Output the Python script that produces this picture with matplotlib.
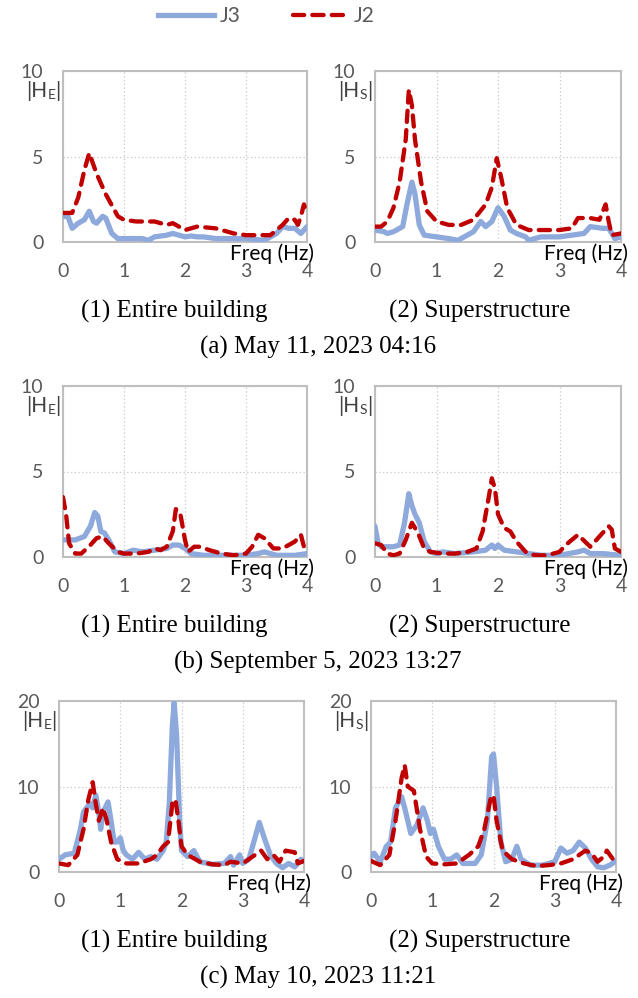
import matplotlib.pyplot as plt
from matplotlib.lines import Line2D

# ---- data (frequency in Hz, |H| amplitude) ----
# (a) May 11, 2023 04:16 - entire building
a1_j3_f = [0, 0.08, 0.15, 0.25, 0.35, 0.43, 0.5, 0.55, 0.65, 0.7, 0.8, 0.9, 1.0, 1.3, 1.4, 1.5, 1.7,
           1.8, 2.0, 2.1, 2.2, 2.3, 2.5, 2.7, 3.0, 3.3, 3.5, 3.6, 3.7, 3.8, 3.9, 4.0]
a1_j3 = [1.5, 1.5, 0.8, 1.1, 1.3, 1.8, 1.2, 1.1, 1.5, 1.4, 0.5, 0.2, 0.2, 0.2, 0.1, 0.3, 0.4,
         0.5, 0.3, 0.35, 0.3, 0.3, 0.2, 0.2, 0.2, 0.1, 0.5, 0.9, 0.8, 0.8, 0.5, 0.9]
a1_j2_f = [0, 0.15, 0.25, 0.35, 0.43, 0.55, 0.7, 0.9, 1.0, 1.2, 1.5, 1.7, 1.8, 2.0, 2.2, 2.5, 2.8,
           3.0, 3.2, 3.4, 3.5, 3.6, 3.7, 3.8, 3.85, 3.9, 3.95, 4.0]
a1_j2 = [1.7, 1.7, 2.6, 4.2, 5.2, 4.0, 2.8, 1.5, 1.3, 1.2, 1.2, 1.0, 1.1, 0.7, 0.9, 0.8, 0.5,
         0.4, 0.4, 0.4, 0.7, 1.0, 1.4, 1.3, 1.0, 1.5, 2.2, 1.6]

# (a) superstructure
a2_j3_f = [0, 0.15, 0.2, 0.3, 0.45, 0.52, 0.6, 0.65, 0.72, 0.8, 1.0, 1.2, 1.35, 1.5, 1.6, 1.72,
           1.8, 1.9, 2.0, 2.1, 2.2, 2.3, 2.45, 2.5, 2.7, 3.0, 3.2, 3.4, 3.5, 3.7, 3.8, 3.9, 4.0]
a2_j3 = [0.7, 0.6, 0.5, 0.6, 0.9, 2.2, 3.5, 2.8, 1.0, 0.4, 0.3, 0.2, 0.1, 0.4, 0.6, 1.2,
         0.9, 1.2, 2.0, 1.5, 0.7, 0.5, 0.3, 0.1, 0.3, 0.3, 0.4, 0.5, 0.9, 0.8, 0.8, 0.2, 0.3]
a2_j2_f = [0, 0.1, 0.2, 0.3, 0.4, 0.5, 0.55, 0.6, 0.65, 0.75, 0.85, 1.0, 1.2, 1.4, 1.6, 1.8, 1.9,
           1.98, 2.05, 2.15, 2.3, 2.5, 2.7, 3.0, 3.2, 3.3, 3.5, 3.65, 3.75, 3.8, 3.85, 4.0]
a2_j2 = [0.9, 0.9, 1.2, 2.0, 3.5, 6.0, 8.9, 8.0, 6.0, 3.5, 1.8, 1.2, 1.0, 1.0, 1.3, 2.2, 3.2,
         4.9, 3.8, 2.0, 1.0, 0.7, 0.7, 0.7, 0.8, 1.4, 1.4, 1.3, 2.2, 1.2, 0.4, 0.5]

# (b) September 5, 2023 13:27 - entire building
b1_j3_f = [0, 0.2, 0.35, 0.45, 0.52, 0.57, 0.62, 0.68, 0.75, 0.85, 1.0, 1.15, 1.3, 1.5, 1.7,
           1.8, 1.9, 2.0, 2.1, 2.3, 2.5, 2.8, 3.0, 3.2, 3.3, 3.5, 3.8, 4.0]
b1_j3 = [1.0, 1.0, 1.2, 1.8, 2.6, 2.4, 1.5, 1.4, 1.0, 0.3, 0.2, 0.4, 0.3, 0.4, 0.5,
         0.7, 0.7, 0.5, 0.2, 0.1, 0.1, 0.1, 0.1, 0.2, 0.3, 0.1, 0.1, 0.2]
b1_j2_f = [0, 0.05, 0.1, 0.2, 0.3, 0.45, 0.55, 0.65, 0.75, 0.9, 1.0, 1.2, 1.4, 1.5, 1.6, 1.7,
           1.8, 1.85, 1.92, 2.0, 2.05, 2.15, 2.25, 2.4, 2.6, 2.8, 3.0, 3.1, 3.2, 3.3, 3.45,
           3.6, 3.8, 3.9, 3.95, 4.0]
b1_j2 = [3.5, 2.5, 0.8, 0.2, 0.2, 0.7, 1.1, 1.2, 0.8, 0.3, 0.2, 0.2, 0.3, 0.5, 0.4, 0.6,
         1.5, 2.8, 2.6, 1.0, 0.3, 0.6, 0.6, 0.4, 0.2, 0.1, 0.2, 0.6, 1.3, 1.1, 0.5,
         0.5, 0.9, 1.3, 0.6, 0.5]

# (b) superstructure
b2_j3_f = [0, 0.05, 0.1, 0.3, 0.4, 0.48, 0.55, 0.6, 0.65, 0.72, 0.8, 0.9, 1.0, 1.1, 1.3, 1.6,
           1.8, 1.9, 1.95, 2.0, 2.1, 2.3, 2.5, 2.7, 3.0, 3.3, 3.4, 3.5, 3.7, 4.0]
b2_j3 = [1.8, 0.8, 0.6, 0.6, 0.7, 2.0, 3.7, 3.0, 2.5, 2.0, 0.9, 0.3, 0.2, 0.3, 0.2, 0.3,
         0.4, 0.7, 0.5, 0.7, 0.4, 0.3, 0.2, 0.1, 0.1, 0.3, 0.4, 0.2, 0.2, 0.1]
b2_j2_f = [0, 0.1, 0.2, 0.3, 0.4, 0.5, 0.6, 0.7, 0.8, 0.9, 1.1, 1.3, 1.5, 1.65, 1.75, 1.85, 1.9,
           1.95, 2.0, 2.1, 2.2, 2.3, 2.45, 2.6, 2.8, 3.0, 3.1, 3.3, 3.5, 3.6, 3.8, 3.85, 3.9, 4.0]
b2_j2 = [0.8, 0.7, 0.2, 0.1, 0.2, 1.0, 2.0, 1.4, 0.5, 0.3, 0.2, 0.2, 0.3, 0.5, 1.5, 3.5, 4.6,
         4.0, 2.5, 1.7, 1.5, 0.9, 0.3, 0.1, 0.1, 0.3, 0.7, 1.3, 0.6, 1.0, 1.8, 1.6, 0.5, 0.3]

# (c) May 10, 2023 11:21 - entire building
c1_j3_f = [0, 0.1, 0.25, 0.35, 0.4, 0.5, 0.55, 0.6, 0.65, 0.68, 0.72, 0.8, 0.85, 0.9, 0.95, 1.0,
           1.05, 1.1, 1.2, 1.3, 1.4, 1.5, 1.6, 1.7, 1.75, 1.8, 1.85, 1.88, 1.92, 1.97, 2.0,
           2.1, 2.2, 2.3, 2.5, 2.7, 2.8, 2.85, 2.95, 3.0, 3.1, 3.2, 3.27, 3.35, 3.45, 3.55,
           3.65, 3.75, 3.85, 3.95, 4.0]
c1_j3 = [1.5, 2.0, 2.2, 5.0, 7.0, 8.0, 7.5, 9.0, 7.0, 5.0, 7.0, 8.2, 6.0, 3.5, 3.5, 4.0,
         2.5, 2.0, 1.5, 2.3, 1.5, 1.8, 1.5, 2.5, 3.5, 8.0, 17.0, 19.8, 16.0, 6.0, 2.5,
         1.8, 2.5, 1.2, 0.9, 1.0, 1.8, 0.8, 2.0, 1.0, 1.5, 4.0, 5.8, 4.0, 2.0, 1.0,
         0.5, 1.0, 0.6, 1.5, 1.2]
c1_j2_f = [0, 0.15, 0.3, 0.4, 0.48, 0.55, 0.6, 0.65, 0.72, 0.78, 0.85, 0.95, 1.1, 1.3, 1.5, 1.6,
           1.7, 1.78, 1.85, 1.9, 1.95, 2.0, 2.1, 2.3, 2.5, 2.7, 2.8, 3.0, 3.2, 3.3, 3.4, 3.5,
           3.6, 3.7, 3.85, 3.9, 4.0]
c1_j2 = [1.0, 0.8, 2.0, 5.0, 8.5, 10.5, 8.0, 6.0, 7.5, 6.0, 3.5, 1.5, 1.0, 1.0, 1.5, 2.0,
         3.0, 3.5, 8.0, 8.5, 6.0, 3.0, 2.0, 1.2, 0.9, 0.8, 1.2, 1.0, 2.0, 2.5, 1.5, 2.0,
         1.2, 2.5, 2.3, 1.0, 1.3]

# (c) superstructure
c2_j3_f = [0, 0.05, 0.15, 0.25, 0.32, 0.4, 0.5, 0.55, 0.65, 0.75, 0.85, 0.92, 0.97, 1.02, 1.1,
           1.2, 1.3, 1.4, 1.5, 1.7, 1.8, 1.9, 1.97, 2.0, 2.05, 2.12, 2.2, 2.3, 2.38, 2.45,
           2.6, 2.8, 3.0, 3.1, 3.2, 3.3, 3.4, 3.5, 3.6, 3.7, 3.8, 3.9, 4.0]
c2_j3 = [1.8, 2.2, 1.2, 3.0, 3.5, 7.5, 8.8, 7.5, 4.5, 5.5, 7.5, 6.0, 4.5, 5.0, 3.0,
         1.5, 1.5, 2.0, 1.0, 1.0, 2.0, 6.0, 13.5, 13.8, 10.0, 3.5, 1.2, 1.5, 3.0, 1.5,
         0.8, 0.8, 1.2, 2.8, 2.2, 2.5, 3.5, 2.8, 1.5, 0.6, 0.5, 0.8, 1.3]
c2_j2_f = [0, 0.15, 0.3, 0.4, 0.5, 0.55, 0.6, 0.7, 0.8, 0.9, 1.0, 1.2, 1.4, 1.6, 1.75, 1.85,
           1.95, 2.0, 2.05, 2.15, 2.3, 2.5, 2.7, 2.9, 3.1, 3.3, 3.5, 3.6, 3.7, 3.8, 3.85,
           3.95, 4.0]
c2_j2 = [1.3, 0.8, 2.0, 6.0, 11.0, 12.5, 10.0, 9.5, 5.0, 1.8, 1.0, 0.9, 1.0, 2.0, 3.0, 5.0,
         8.5, 9.0, 6.0, 2.5, 1.5, 1.0, 0.7, 0.8, 1.0, 1.5, 2.5, 2.2, 1.2, 1.8, 2.5,
         1.5, 1.0]

X_TICKS = [0, 1, 2, 3, 4]
CAPTIONS = ["(a) May 11, 2023 04:16", "(b) September 5, 2023 13:27", "(c) May 10, 2023 11:21"]
SUB_CAPTIONS = ["(1) Entire building", "(2) Superstructure"]
Y_MAX = [10, 10, 20]
Y_TICKS = [[0, 5, 10], [0, 5, 10], [0, 10, 20]]

J3_COLOR = "#8EA9DB"
J2_COLOR = "#C00000"
GRAY = "#595959"
SANS = ["Lato", "DejaVu Sans"]
SERIF = ["Liberation Serif", "DejaVu Serif"]

panels = [
    [(a1_j3_f, a1_j3, a1_j2_f, a1_j2, "E"), (a2_j3_f, a2_j3, a2_j2_f, a2_j2, "S")],
    [(b1_j3_f, b1_j3, b1_j2_f, b1_j2, "E"), (b2_j3_f, b2_j3, b2_j2_f, b2_j2, "S")],
    [(c1_j3_f, c1_j3, c1_j2_f, c1_j2, "E"), (c2_j3_f, c2_j3, c2_j2_f, c2_j2, "S")],
]

W, H = 638, 998
fig = plt.figure(figsize=(W / 100, H / 100), dpi=100)

# axes boxes in pixels: (left, top, right, bottom)
boxes = [
    [(63, 71, 307, 242), (375, 71, 621, 242)],
    [(63, 386, 307, 557), (375, 386, 621, 557)],
    [(59, 701, 304, 872), (371, 701, 616, 872)],
]
caption_y = [(311, 347), (626, 662), (941, 977)]
sub_caption_x = [174, 480]


def _draw_panel(ax, j3_f, j3, j2_f, j2, sub, ymax, yticks):
    ax.plot(j3_f, j3, color=J3_COLOR, lw=3.8, solid_joinstyle="round",
            solid_capstyle="round", zorder=3)
    ax.plot(j2_f, j2, color=J2_COLOR, lw=3.1, dashes=(2.6, 1.9),
            dash_capstyle="round", zorder=4)
    ax.set_xlim(0, 4)
    ax.set_ylim(0, ymax)
    ax.set_xticks(X_TICKS)
    ax.set_yticks(yticks)
    ax.tick_params(length=0, labelsize=14, labelcolor=GRAY, pad=0)
    ax.tick_params(axis="x", pad=15)
    ax.tick_params(axis="y", pad=14)
    for lab in ax.get_xticklabels() + ax.get_yticklabels():
        lab.set_family(SANS)
    ax.grid(True, ls=(0, (1, 2)), color="#C8C8C8", lw=0.9)
    for sp in ax.spines.values():
        sp.set_color("#BFBFBF")
        sp.set_linewidth(1.5)
    ax.set_facecolor("white")

    ax.text(1.03, -0.01, "Freq (Hz)", transform=ax.transAxes, ha="right", va="top",
            fontsize=15, family=SANS, color="black", zorder=5)
    t1 = ax.text(-0.15, 0.85, "|H", transform=ax.transAxes, ha="left", va="baseline",
                 fontsize=15, family=SANS, color="#404040")
    t2 = ax.annotate(sub, xy=(1, 0), xycoords=t1, ha="left", va="bottom",
                     fontsize=10, family=SANS, color="#404040")
    ax.annotate("|", xy=(1, 0), xycoords=t2, ha="left", va="bottom",
                fontsize=15, family=SANS, color="#404040")


for r in range(3):
    for c in range(2):
        left, top, right, bottom = boxes[r][c]
        ax = fig.add_axes([left / W, 1 - bottom / H, (right - left) / W, (bottom - top) / H])
        j3_f, j3, j2_f, j2, sub = panels[r][c]
        _draw_panel(ax, j3_f, j3, j2_f, j2, sub, Y_MAX[r], Y_TICKS[r])
        fig.text(sub_caption_x[c] / W, 1 - caption_y[r][0] / H, SUB_CAPTIONS[c],
                 ha="center", va="center", fontsize=18, family=SERIF)
    fig.text(318 / W, 1 - caption_y[r][1] / H, CAPTIONS[r], ha="center", va="center",
             fontsize=18, family=SERIF)

handles = [
    Line2D([], [], color=J3_COLOR, lw=3.8),
    Line2D([], [], color=J2_COLOR, lw=3.1, dashes=(2.6, 1.9), dash_capstyle="round"),
]
fig.legend(handles, ["J3", "J2"], loc="center", bbox_to_anchor=(0.418, 1 - 16 / H),
           ncol=2, frameon=False, handlelength=2.65, handletextpad=0.3, columnspacing=2.5,
           prop={"family": SANS, "size": 15}, labelcolor=GRAY)

fig.savefig("out.png", dpi=100)
